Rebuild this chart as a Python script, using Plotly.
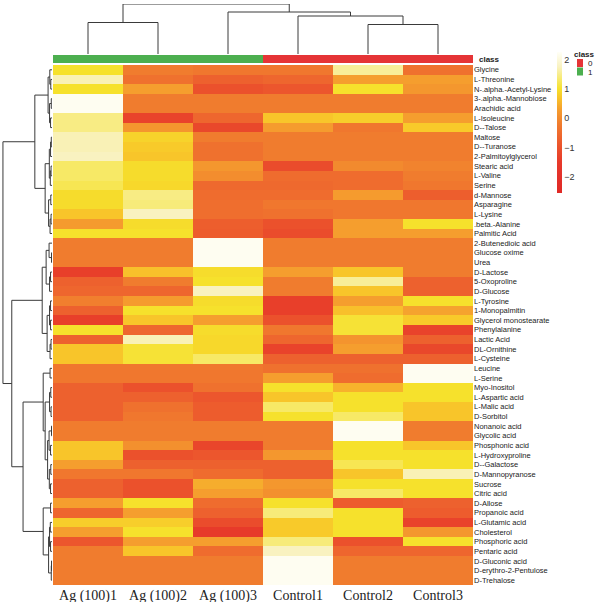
import plotly.graph_objects as go

# ---------------- data ----------------
row_labels = [
    "Glycine", "L-Threonine", "N-.alpha.-Acetyl-Lysine", "3-.alpha.-Mannobiose", "Arachidic acid",
    "L-Isoleucine", "D--Talose", "Maltose", "D--Turanose", "2-Palmitoylglycerol", "Stearic acid",
    "L-Valine", "Serine", "d-Mannose", "Asparagine", "L-Lysine", ".beta.-Alanine", "Palmitic Acid",
    "2-Butenedioic acid", "Glucose oxime", "Urea", "D-Lactose", "5-Oxoproline", "D-Glucose",
    "L-Tyrosine", "1-Monopalmitin", "Glycerol monostearate", "Phenylalanine", "Lactic Acid",
    "DL-Ornithine", "L-Cysteine", "Leucine", "L-Serine", "Myo-Inositol", "L-Aspartic acid",
    "L-Malic acid", "D-Sorbitol", "Nonanoic acid", "Glycolic acid", "Phosphonic acid",
    "L-Hydroxyproline", "D--Galactose", "D-Mannopyranose", "Sucrose", "Citric acid", "D-Allose",
    "Propanoic acid", "L-Glutamic acid", "Cholesterol", "Phosphoric acid", "Pentaric acid",
    "D-Gluconic acid", "D-erythro-2-Pentulose", "D-Trehalose",
]
col_labels = ["Ag (100)1", "Ag (100)2", "Ag (100)3", "Control1", "Control2", "Control3"]
col_class = [1, 1, 1, 0, 0, 0]

ag1 = [1.0, 1.7, 1.0, 2.2, 2.2, 1.45, 1.45, 1.7, 1.7, 1.75, 1.3, 1.3, 1.2, 0.95, 0.95, 0.7, 0.25, 1.0,
       -0.2, -0.2, -0.2, -1.4, -0.7, -0.6, -0.15, -0.7, -1.4, 1.0, -0.7, 0.7, 0.7,
       -0.3, -0.3, -0.7, -0.7, -0.7, -0.7, -0.2, -0.2, 0.7, 0.7, 0.3, -0.3, -0.7, -0.7,
       0.3, -0.6, 0.8, 0.3, -0.9, -0.2, -0.2, -0.2, -0.2]
ag2 = [-0.2, -0.4, 0.3, -0.2, -0.2, -1.3, 0.2, 0.85, 0.75, 0.7, 0.95, 0.95, 0.9, 1.45, 1.4, 1.75, 0.95, 1.0,
       -0.2, -0.2, -0.2, 0.65, -0.2, -0.6, 0.25, 1.0, 0.7, -0.6, 1.7, 1.05, 1.05,
       -0.3, -0.3, -1.0, -0.7, -0.4, -0.3, -0.2, -0.2, 0.1, -1.0, -0.7, -0.3, -1.0, -1.0,
       1.0, 0.3, 0.8, 1.0, 0.3, 0.7, -0.2, -0.2, -0.2]
ag3 = [-0.3, -0.7, -1.0, -0.2, -0.2, -0.6, -1.2, -0.2, -0.4, -0.4, 0.2, 0.05, -0.55, -0.5, -0.45, -0.45, -0.75, -0.8,
       2.2, 2.2, 2.2, 0.95, 1.0, 1.75, 0.95, 1.0, 0.3, 0.95, 0.9, 0.9, 1.3,
       -0.3, -0.3, -0.4, -0.9, -0.8, -0.8, -0.2, -0.2, -1.25, -0.9, -0.7, -0.5, 0.45, 0.3,
       -0.5, -0.7, -1.1, -1.5, 0.3, -0.5, -0.2, -0.2, -0.2]
control1 = [-0.3, -0.6, -0.9, -0.2, -0.2, 0.7, 0.25, -0.2, -0.2, -0.2, -1.1, -0.5, -0.55, -0.5, -0.3, -0.4, -1.0, -1.1,
            -0.2, -0.2, -0.2, 0.3, -0.2, -0.2, -1.4, -1.4, -1.0, -0.3, -0.6, -1.3, -0.7,
            -0.4, 0.3, 1.0, 0.7, 1.3, 1.0, -0.2, -0.2, -0.2, 0.2, -0.7, -0.7, 0.2, 0.1,
            1.0, 1.4, 0.75, 0.75, 1.4, 1.75, 2.2, 2.2, 2.2]
control2 = [1.55, 0.3, 1.0, -0.2, -0.2, 0.8, -0.3, -0.2, -0.2, -0.2, 0.0, -0.5, -0.5, 0.25, -0.3, -0.3, 0.3, 0.3,
            -0.2, -0.2, -0.2, 0.7, 1.55, 0.7, 0.3, 0.65, 1.05, 1.05, 0.15, 0.3, -0.7,
            -0.4, -0.5, 0.5, 1.0, 1.0, 1.3, 2.2, 2.2, 1.0, 1.0, 1.2, 0.7, 1.0, 1.3,
            -0.8, 1.0, 1.0, 1.0, -1.0, -0.6, -0.2, -0.2, -0.2]
control3 = [-0.4, 0.3, 0.2, -0.2, -0.2, 0.3, 0.75, -0.2, -0.2, -0.2, -0.1, -0.2, -0.3, -0.75, -0.3, -0.3, 1.0, 0.3,
            -0.2, -0.2, -0.2, -0.2, -0.7, -0.7, 1.0, 0.35, 0.75, -1.3, -0.7, -1.2, -0.7,
            2.2, 2.2, 1.0, 1.0, 0.7, 0.7, -0.2, -0.2, 0.7, 1.0, 1.0, 1.7, 1.0, 1.0,
            -0.7, -0.8, -1.3, 0.2, 1.0, -0.6, -0.2, -0.2, -0.2]

# dendrogram structures (leaf = row / column index, node = (left, right, height))
row_tree = (
    (
        ((0, (1, 2, 0.25), 0.45), ((3, 4, 0.15), (5, 6, 0.3), 0.5), 0.8),
        ((((7, 8, 0.15), 9, 0.3), ((10, 11, 0.2), 12, 0.35), 0.55),
         ((13, 14, 0.25), ((15, 16, 0.2), 17, 0.4), 0.7), 1.4),
        3.5),
    (
        (((18, (19, 20, 0.1), 0.6), ((21, 22, 0.3), 23, 0.5), 1.2),
         (((24, 25, 0.3), (26, 27, 0.3), 0.5), ((28, 29, 0.2), 30, 0.4), 1.0), 2.0),
        (((31, 32, 0.4),
          (((33, 34, 0.25), (35, 36, 0.2), 0.5),
           (((37, 38, 0.1), (39, 40, 0.3), 0.6), ((41, 42, 0.25), (43, 44, 0.3), 0.55), 0.9), 1.4), 1.8),
         ((45, 46, 0.3), (((47, 48, 0.35), (49, 50, 0.3), 0.5), ((51, 52, 0.1), 53, 0.15), 0.7), 1.8),
         5.9),
        8.2),
    10.0)
col_tree = ((0, 1, 6.3), (2, (3, (4, 5, 5.9), 7.6), 8.4), 10.0)

# ---------------- helpers ----------------
W, H = 600, 602
def dx(a, b):
    return [a / W, b / W]
def dy(top, bottom):
    return [1 - bottom / H, 1 - top / H]

def walk(node, pos, hgt):
    if isinstance(node, int):
        return float(node), 0.0
    l, r, h = node
    cl, hl = walk(l, pos, hgt)
    cr, hr = walk(r, pos, hgt)
    pos += [cl, cl, cr, cr, None]
    hgt += [hl, h, h, hr, None]
    return (cl + cr) / 2, h

zmin, zmax = -2.55, 2.26
stops = [(-2.55, "#E02A26"), (-2.0, "#E3302A"), (-1.5, "#E73A2A"), (-1.0, "#EB512C"),
         (-0.6, "#EE662E"), (-0.2, "#F07C2E"), (0.3, "#F59E2E"), (0.7, "#F8C52A"),
         (1.0, "#F6E12C"), (1.35, "#F7EA70"), (1.75, "#F9F2C0"), (2.26, "#FFFFF8")]
colorscale = [[(v - zmin) / (zmax - zmin), c] for v, c in stops]

cols = [ag1, ag2, ag3, control1, control2, control3]
z = [[cols[j][i] for j in range(6)] for i in range(len(row_labels))]

fig = go.Figure()

fig.add_trace(go.Heatmap(
    z=z, x=list(range(6)), y=list(range(len(row_labels))),
    colorscale=colorscale, zmin=zmin, zmax=zmax,
    xaxis="x", yaxis="y", hoverinfo="skip",
    colorbar=dict(thickness=5, lenmode="pixels", len=141, x=557 / W, xanchor="left",
                  y=1 - 52 / H, yanchor="top", outlinewidth=0, xpad=0, ypad=0,
                  tickvals=[-2, -1, 0, 1, 2], ticks="", tickfont=dict(size=9, color="#333",
                  family="Liberation Sans, Arial")),
))

# class bar
fig.add_trace(go.Heatmap(
    z=[col_class], x=list(range(6)), y=[0],
    colorscale=[[0, "#E53436"], [0.5, "#E53436"], [0.5, "#4CAF4F"], [1, "#4CAF4F"]],
    zmin=0, zmax=1, showscale=False, xaxis="x2", yaxis="y2", hoverinfo="skip"))

# row dendrogram
rp, rh = [], []
walk(row_tree, rp, rh)
fig.add_trace(go.Scatter(x=rh, y=rp, mode="lines", line=dict(color="#3a3a3a", width=1),
                         xaxis="x3", yaxis="y3", hoverinfo="skip", showlegend=False))

# column dendrogram
cp, ch = [], []
walk(col_tree, cp, ch)
fig.add_trace(go.Scatter(x=cp, y=ch, mode="lines", line=dict(color="#3a3a3a", width=1),
                         xaxis="x4", yaxis="y4", hoverinfo="skip", showlegend=False))

hm_x = dx(53, 473)
hm_y = dy(65, 585)
noax = dict(showgrid=False, zeroline=False, showticklabels=False, ticks="", showline=False,
            automargin=False)

fig.update_layout(
    width=W, height=H, margin=dict(l=0, r=0, t=0, b=0),
    paper_bgcolor="white", plot_bgcolor="white", showlegend=False,
    xaxis=dict(domain=hm_x, range=[-0.5, 5.5], tickvals=list(range(6)), ticktext=col_labels,
               showgrid=False, zeroline=False, ticks="", automargin=False,
               tickfont=dict(family="Liberation Serif, Times New Roman", size=14, color="#222")),
    yaxis=dict(domain=hm_y, range=[len(row_labels) - 0.5, -0.5], side="right",
               tickvals=list(range(len(row_labels))), ticktext=row_labels,
               showgrid=False, zeroline=False, ticks="", automargin=False,
               tickfont=dict(family="Liberation Sans, Arial", size=7.5, color="#222")),
    xaxis2=dict(domain=hm_x, range=[-0.5, 5.5], anchor="y2", **noax),
    yaxis2=dict(domain=dy(55, 63), range=[-0.5, 0.5], anchor="x2", **noax),
    xaxis3=dict(domain=dx(0, 53), range=[10.6, -0.2], anchor="y3", **noax),
    yaxis3=dict(domain=hm_y, range=[len(row_labels) - 0.5, -0.5], anchor="x3", **noax),
    xaxis4=dict(domain=hm_x, range=[-0.5, 5.5], anchor="y4", **noax),
    yaxis4=dict(domain=dy(4, 54), range=[0, 10], anchor="x4", **noax),
)

ann_font = dict(family="Liberation Sans, Arial", size=8, color="#222")
fig.add_annotation(text="<b>class</b>", x=477 / W, y=1 - 59 / H, xref="paper", yref="paper",
                   xanchor="left", yanchor="middle", showarrow=False, font=ann_font)
fig.add_annotation(text="<b>class</b>", x=572 / W, y=1 - 54 / H, xref="paper", yref="paper",
                   xanchor="left", yanchor="middle", showarrow=False, font=ann_font)
for k, (lab, colr) in enumerate([("0", "#E53436"), ("1", "#4CAF4F")]):
    top = 59 + k * 8.5
    fig.add_shape(type="rect", xref="paper", yref="paper", x0=577 / W, x1=583 / W,
                  y0=1 - (top + 8) / H, y1=1 - top / H, fillcolor=colr, line=dict(width=0))
    fig.add_annotation(text=lab, x=586 / W, y=1 - (top + 4.5) / H, xref="paper", yref="paper",
                       xanchor="left", yanchor="middle", showarrow=False, font=ann_font)

fig.write_html("out.html", config={"displayModeBar": False},
               post_script="document.body.style.margin='0px';document.body.style.overflow='hidden';")
